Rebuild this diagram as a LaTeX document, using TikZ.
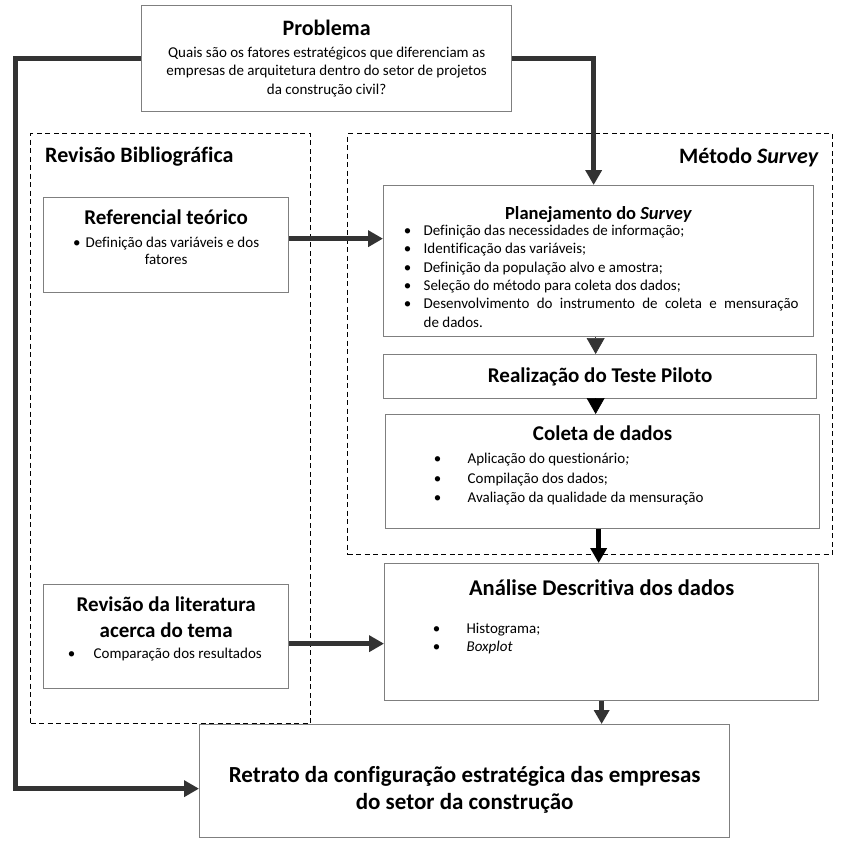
\documentclass[tikz,border=0pt]{standalone}
\usepackage{fontspec}
\setmainfont{Carlito}[Ligatures=CommonOff]
\usepackage{tikz}
\usetikzlibrary{arrows.meta, calc}
\definecolor{linegray}{HTML}{333333}
\definecolor{framegray}{HTML}{7F7F7F}
\newcommand{\bodytxt}{\fontsize{15}{18.5}\selectfont}
\newcommand{\bul}[1]{\par\noindent\llap{\makebox[0pt]{\textbullet}\hspace{#1}}\ignorespaces}

\begin{document}
\begin{tikzpicture}[x=1pt, y=-1pt,
        flow/.style={-{Triangle[length=15pt,width=16pt]}, line width=5pt, draw=linegray},
        tri/.style={-{Triangle[length=16pt,width=18pt]}, line width=0.6pt, draw=linegray},
        blk/.style={draw=framegray, line width=1.3pt, inner sep=0pt, anchor=north west},
        grp/.style={draw=black, dash pattern=on 5pt off 3.5pt, line width=1.1pt, inner sep=0pt, anchor=north west},
        head/.style={font=\fontsize{22}{26}\selectfont\bfseries, inner sep=0pt},
    ]
        \useasboundingbox (0,0) rectangle (847,843);
        % grupos tracejados
        \node[grp, minimum width=280, minimum height=590] (bib) at (30,133) {};
        \node[grp, minimum width=485, minimum height=421] (met) at (347,133) {};
        \node[head, anchor=base west] (bibtit) at (45,162) {Revisão Bibliográfica};
        \node[head, anchor=base east] (mettit) at (819,163) {Método \textit{Survey}};
        % caixas
        \node[blk] (prob) at (141,5) {\parbox[c][106pt][t]{370pt}{\centering
            \rule{0pt}{30pt}{\fontsize{22}{26}\selectfont\bfseries Problema}\par
            \vspace{3pt}\bodytxt Quais são os fatores estratégicos que diferenciam as\\
            empresas de arquitetura dentro do setor de projetos\\
            da construção civil?\par}};
        \node[blk] (ref) at (43,197) {\parbox[c][95pt][t]{245pt}{\centering
            \rule{0pt}{26.5pt}{\fontsize{21}{25}\selectfont\bfseries Referencial teórico}\par
            \vspace{5.5pt}\fontsize{15}{17.5}\selectfont
            \textbullet\hspace{5pt}Definição das variáveis e dos\\fatores\par}};
        \node[blk] (plan) at (383,185) {\parbox[c][151pt][t]{430pt}{\centering
            \rule{0pt}{33.5pt}{\fontsize{18.5}{22}\selectfont\bfseries Planejamento do \textit{Survey}}\par
            \vspace{-1.8pt}\fontsize{15}{18.3}\selectfont
            \leftskip=40pt\rightskip=15pt\parfillskip=0pt plus 1fil
            \bul{16pt}Definição das necessidades de informação;
            \bul{16pt}Identificação das variáveis;
            \bul{16pt}Definição da população alvo e amostra;
            \bul{16pt}Seleção do método para coleta dos dados;
            \bul{16pt}Desenvolvimento do instrumento de coleta e mensuração\linebreak de dados.\par}};
        \node[blk, minimum width=433, minimum height=44, font=\fontsize{21}{25}\selectfont\bfseries] (real) at (383,354) {Realização do Teste Piloto};
        \node[blk] (col) at (385,414) {\parbox[c][114pt][t]{434pt}{\centering
            \rule{0pt}{26pt}{\fontsize{21}{25}\selectfont\bfseries Coleta de dados}\par
            \vspace{3.5pt}\fontsize{15}{19.5}\selectfont
            \leftskip=82pt\rightskip=0pt plus 1fil\parfillskip=0pt plus 1fil
            \bul{30pt}Aplicação do questionário\textit{;}
            \bul{30pt}Compilação dos dados;
            \bul{30pt}Avaliação da qualidade da mensuração\par}};
        \node[blk] (ana) at (384,563) {\parbox[c][137pt][t]{434pt}{\centering
            \rule{0pt}{31.5pt}{\fontsize{22.5}{27}\selectfont\bfseries Análise Descritiva dos dados}\par
            \vspace{20pt}\fontsize{15}{18}\selectfont
            \leftskip=82pt\rightskip=0pt plus 1fil\parfillskip=0pt plus 1fil
            \bul{30pt}Histograma;
            \bul{30pt}\textit{Boxplot}\par}};
        \node[blk] (lit) at (43,584) {\parbox[c][104pt][t]{245pt}{\centering
            {\fontsize{21}{26}\selectfont\bfseries\rule{0pt}{27pt}Revisão da literatura\\acerca do tema\par}
            \vspace{2pt}\bodytxt
            \leftskip=50pt\rightskip=0pt plus 1fil\parfillskip=0pt plus 1fil
            \bul{22pt}Comparação dos resultados\par}};
        \node[blk] (ret) at (199,724) {\parbox[c][113pt][t]{530pt}{\centering
            \fontsize{23}{27}\selectfont\bfseries
            \rule{0pt}{58pt}Retrato da configuração estratégica das empresas\\do setor da construção\par}};
        % conexoes
        \draw[flow] (prob.west) -- ++(-126,0) |- ([yshift=-7.5pt]ret.west);
        \draw[flow] (prob.east) -| ([xshift=-5pt]plan.north);
        \draw[flow] ([yshift=6.5pt]ref.east) -- ([yshift=6.5pt]ref.east -| plan.west);
        \draw[flow] ([yshift=-7pt]lit.east) -- ([yshift=-7pt]lit.east -| ana.west);
        \draw[tri] ([xshift=-3pt]plan.south) -- ([xshift=-3pt]plan.south |- real.north);
        \draw[tri, draw=black] ([xshift=-4.5pt]real.south) -- ([xshift=-4.5pt]real.south |- col.north);
        \draw[flow, draw=black, line width=5.5pt] ([xshift=-4pt]col.south) -- ([xshift=-4pt]col.south |- ana.north);
        \draw[flow, line width=4.5pt, -{Triangle[length=14pt,width=15pt]}] (ana.south) -- (ana.south |- ret.north);
    \end{tikzpicture}
\end{document}
